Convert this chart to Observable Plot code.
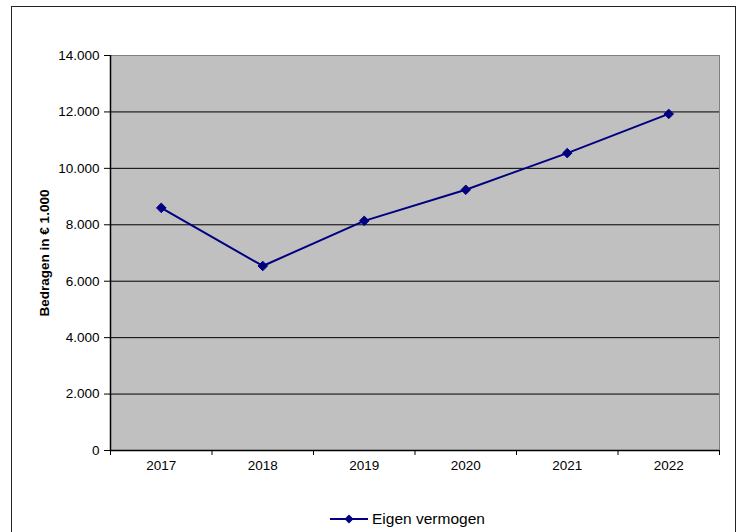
<!DOCTYPE html>
<html><head><meta charset="utf-8">
<script src="https://cdn.jsdelivr.net/npm/d3@7"></script>
<script src="https://cdn.jsdelivr.net/npm/@observablehq/plot@0.6"></script>
<style>
body{margin:0;background:#fff;font-family:"Liberation Sans",Arial,sans-serif;}
#wrap{position:relative;width:742px;height:532px;overflow:hidden;}
#border{position:absolute;left:11px;top:6px;width:725px;height:560px;border:1px solid #222;box-sizing:border-box;}
#chart{position:absolute;left:0;top:0;}
#legend{position:absolute;left:329px;top:508px;height:22px;display:flex;align-items:center;font-size:15.5px;color:#000;}
#legend svg{display:block;margin-right:3px;}
#chart svg text{font-size:inherit;}
</style></head>
<body>
<div id="wrap"><div id="border"></div><div id="chart"></div>
<div id="legend"></div></div>
<script>
const years = [2017, 2018, 2019, 2020, 2021, 2022];
const values = [8600, 6540, 8140, 9240, 10540, 11930];
const yTicks = [0, 2000, 4000, 6000, 8000, 10000, 12000, 14000];
const seriesName = "Eigen vermogen";
const yLabel = "Bedragen in € 1.000";

const data = years.map((y, i) => ({year: y, value: values[i]}));
const xDomain = [years[0] - 0.5, years[years.length - 1] + 0.5];
const boundaries = [xDomain[0], ...years.map(y => y + 0.5)];
const fmt = d => d3.format(",")(d).replace(/,/g, ".");
const navy = "#000080";

const chart = Plot.plot({
  width: 742, height: 490,
  marginLeft: 110, marginRight: 23, marginTop: 55, marginBottom: 40,
  style: {fontFamily: '"Liberation Sans", Arial, sans-serif', fontSize: "13.5px", color: "#000", background: "transparent"},
  x: {type: "linear", domain: xDomain},
  y: {domain: [yTicks[0], yTicks[yTicks.length - 1]]},
  marks: [
    Plot.frame({fill: "#c0c0c0", stroke: "#808080"}),
    Plot.ruleY(yTicks.slice(1, -1), {stroke: "#000", strokeWidth: 1}),
    Plot.ruleY([yTicks[0]], {stroke: "#000", strokeWidth: 1.5}),
    Plot.ruleX([xDomain[0]], {stroke: "#000", strokeWidth: 1.5}),
    Plot.axisY({ticks: yTicks, tickSize: 6, tickPadding: 5, tickFormat: fmt, label: null, fontSize: 13.5}),
    Plot.axisX({ticks: boundaries, tickSize: 5, tickFormat: () => "", label: null}),
    Plot.axisX({ticks: years, tickSize: 0, tickPadding: 10, tickFormat: d => String(d), label: null, fontSize: 13.5}),
    Plot.text([yLabel], {frameAnchor: "left", textAnchor: "middle", rotate: -90, dx: -66, fontWeight: "bold", fontSize: 13.5}),
    Plot.line(data, {x: "year", y: "value", stroke: navy, strokeWidth: 2}),
    Plot.dot(data, {x: "year", y: "value", symbol: "diamond2", r: 4.3, fill: navy, stroke: navy, strokeWidth: 1})
  ]
});
document.getElementById("chart").append(chart);

const leg = document.getElementById("legend");
leg.innerHTML = `<svg width="40" height="12"><line x1="1" y1="6" x2="39" y2="6" stroke="${navy}" stroke-width="2"/><path d="M20,1.5L24.5,6L20,10.5L15.5,6Z" fill="${navy}"/></svg><span>${seriesName}</span>`;
</script>
</body></html>
